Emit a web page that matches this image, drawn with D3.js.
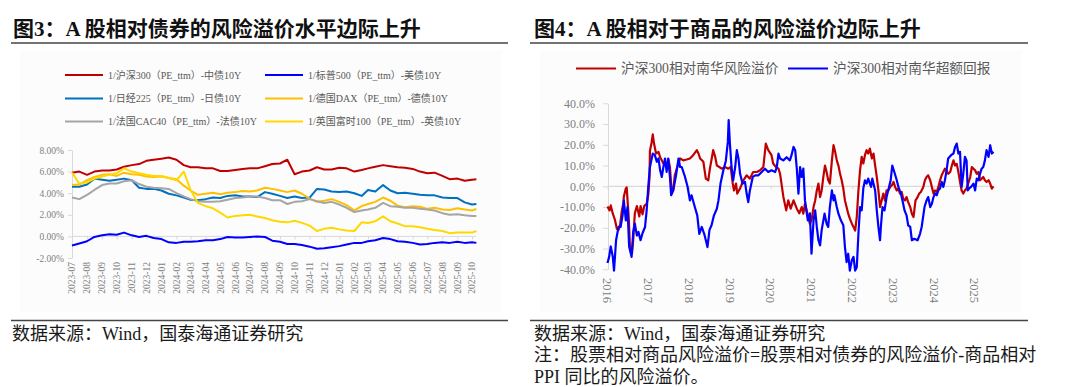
<!DOCTYPE html>
<html>
<head>
<meta charset="utf-8">
<script src="https://cdn.jsdelivr.net/npm/d3@7"></script>
<style>
  body { margin: 0; background: #fff; }
  svg { display: block; }
  text { font-family: 'Liberation Serif', 'Noto Sans CJK SC', serif; }
</style>
</head>
<body>
<svg id="chart" width="1080" height="387"></svg>
<script>
// ---------- 图3 data (semi-monthly readings, %) ----------
const dates3 = ("2023-07-01 2023-07-16 2023-08-01 2023-08-16 2023-09-01 2023-09-16 2023-10-01 2023-10-16 " +
  "2023-11-01 2023-11-16 2023-12-01 2023-12-16 2024-01-01 2024-01-16 2024-02-01 2024-02-16 2024-03-01 2024-03-16 " +
  "2024-04-01 2024-04-16 2024-05-01 2024-05-16 2024-06-01 2024-06-16 2024-07-01 2024-07-16 2024-08-01 2024-08-16 " +
  "2024-09-01 2024-09-16 2024-10-01 2024-10-16 2024-11-01 2024-11-16 2024-12-01 2024-12-16 2025-01-01 2025-01-16 " +
  "2025-02-01 2025-02-16 2025-03-01 2025-03-16 2025-04-01 2025-04-16 2025-05-01 2025-05-16 2025-06-01 2025-06-16 " +
  "2025-07-01 2025-07-16 2025-08-01 2025-08-16 2025-09-01 2025-09-16 2025-10-01 2025-10-10").split(" ");

const hs300 = [5.9,6.0,5.7,6.0,6.1,6.1,6.2,6.45,6.6,6.7, 7.0,7.1,7.2,7.3,7.1,6.6,6.4,6.4,6.3,6.3,
  6.05,6.05,6.15,6.25,6.3,6.3,6.5,6.7,6.75,7.1, 5.75,6.0,6.1,6.4,6.2,6.2,6.35,6.3,6.0,6.15,
  6.3,6.45,6.6,6.5,6.4,6.35,6.25,6.0,5.85,5.9, 5.6,5.3,5.35,5.15,5.25,5.3];
const sp500 = [-0.85,-0.65,-0.45,-0.05,0.1,0.2,0.15,0.35,0.1,-0.05, 0.05,-0.15,-0.25,-0.55,-0.6,-0.5,-0.5,-0.45,-0.35,-0.35,
  -0.25,-0.05,-0.1,-0.1,-0.05,0.0,-0.05,-0.4,-0.5,-0.7, -0.7,-0.8,-0.95,-1.15,-1.1,-1.0,-0.9,-0.75,-0.6,-0.6,
  -0.45,-0.35,-0.15,-0.25,-0.45,-0.5,-0.6,-0.75,-0.7,-0.6, -0.55,-0.6,-0.5,-0.6,-0.55,-0.6];
const nikkei = [4.6,4.6,4.8,5.35,5.25,5.15,5.25,5.35,5.2,4.5, 4.4,4.4,4.25,3.95,3.8,3.6,3.4,3.35,3.45,3.6,
  3.55,3.75,3.8,3.7,3.7,3.65,4.1,3.95,3.75,3.55, 3.7,3.55,3.6,4.4,4.35,4.15,4.1,4.15,4.0,3.75,
  4.3,4.15,4.75,4.25,4.0,4.05,3.95,3.85,3.8,3.8, 3.6,3.55,3.55,3.15,2.95,3.0];
const dax = [4.75,4.8,5.2,5.5,5.7,5.75,5.6,5.9,5.75,5.7, 5.55,5.5,5.55,5.4,5.3,4.7,4.25,3.85,3.95,4.05,
  3.9,4.05,4.1,4.2,4.15,4.25,4.5,4.4,4.25,4.1, 4.25,3.95,3.5,3.2,3.3,3.45,3.2,2.9,2.4,2.8,
  3.0,3.2,3.6,3.3,2.85,2.7,2.8,2.75,2.55,2.65, 2.5,2.45,2.6,2.5,2.4,2.55];
const cac40 = [3.6,3.45,3.85,4.3,4.75,4.9,4.9,5.1,5.2,4.85, 4.6,4.5,4.45,4.4,4.0,3.7,3.45,3.25,3.2,3.2,
  3.25,3.4,3.55,3.6,3.7,3.7,3.55,3.35,3.35,3.0, 3.2,3.25,3.45,3.25,3.1,3.2,2.95,2.65,2.25,2.4,
  2.5,2.65,3.1,2.8,2.75,2.65,2.65,2.55,2.5,2.4, 2.15,2.0,2.05,1.95,1.9,1.9];
const ftse100 = [5.9,4.9,5.0,5.35,5.55,5.7,5.85,6.3,6.0,5.85, 5.7,5.6,5.6,5.4,5.2,6.0,4.3,3.1,2.8,2.6,
  2.2,1.75,1.9,1.95,2.0,1.85,1.7,1.5,1.35,1.3, 1.45,1.25,1.0,0.5,0.7,0.8,0.65,0.55,0.5,1.3,
  1.25,1.4,1.85,1.4,1.2,0.95,0.95,0.85,0.7,0.6, 0.5,0.3,0.35,0.35,0.35,0.5];

const names3 = ["1/沪深300（PE_ttm）-中债10Y", "1/标普500（PE_ttm）-美债10Y", "1/日经225（PE_ttm）-日债10Y",
  "1/德国DAX（PE_ttm）-德债10Y", "1/法国CAC40（PE_ttm）-法债10Y", "1/英国富时100（PE_ttm）-英债10Y"];
const colors3 = ["#C00000", "#0000FF", "#0070C0", "#FFC000", "#A5A5A5", "#FFD800"];
const values3 = [hs300, sp500, nikkei, dax, cac40, ftse100];
const yTicks3 = [-2, 0, 2, 4, 6, 8];

// ---------- 图4 data ([year, %]) ----------
const hsPremium = [
  [2016.00,-9.7],[2016.05,-11.6],[2016.08,-9.2],[2016.13,-13.2],[2016.18,-16],[2016.23,-20.5],[2016.27,-21],[2016.31,-18.5],
  [2016.35,-12],[2016.39,-8],[2016.40,-5],[2016.45,-1],[2016.47,-0.5],[2016.52,-15],[2016.55,-29],[2016.60,-32.5],
  [2016.63,-26],[2016.67,-13],[2016.72,-9.5],[2016.78,-14.5],[2016.81,-9.5],[2016.86,-13.5],[2016.90,-9.5],[2016.96,-8.4],
  [2017.00,-4],[2017.03,4.5],[2017.04,17],[2017.08,21],[2017.11,25],[2017.14,20.6],[2017.19,15.8],[2017.25,16.6],
  [2017.29,14],[2017.37,11],[2017.45,9.3],[2017.49,13],[2017.53,9.3],[2017.57,-2],[2017.61,-2],[2017.65,5.3],
  [2017.71,9.3],[2017.78,13.4],[2017.86,12.5],[2017.94,12.9],[2018.02,13.4],[2018.10,15],[2018.19,17.4],[2018.23,15.8],
  [2018.27,13.4],[2018.35,11.8],[2018.41,3.7],[2018.47,2.9],[2018.51,8.5],[2018.59,17.4],[2018.64,14.2],[2018.68,10],
  [2018.74,9.3],[2018.80,8.5],[2018.88,9.3],[2018.96,8.5],[2019.02,9.3],[2019.07,1.3],[2019.10,-2],[2019.15,1.3],
  [2019.18,-3.5],[2019.25,-1],[2019.33,2.9],[2019.41,5.3],[2019.49,3.7],[2019.57,6.9],[2019.66,6.9],[2019.74,7.7],
  [2019.82,9.3],[2019.88,20.6],[2019.94,17.4],[2020.02,15],[2020.06,11],[2020.13,9.3],[2020.19,8.5],[2020.23,6],
  [2020.31,-5],[2020.38,-11.6],[2020.43,-6.8],[2020.49,-10.8],[2020.56,-6.8],[2020.64,-10.8],[2020.70,-13],
  [2020.76,-10],[2020.80,-13.2],[2020.84,-8.4],[2020.88,-11.6],[2020.92,-14.8],[2020.96,-18],[2021.00,-16.4],[2021.05,-10],
  [2021.09,-6.8],[2021.13,-2],[2021.17,1.3],[2021.21,-5.2],[2021.25,-2],[2021.29,4.5],[2021.33,10],[2021.37,6.9],
  [2021.41,2.9],[2021.45,1.3],[2021.50,12.5],[2021.54,19.8],[2021.58,16.6],[2021.62,12.5],[2021.66,10],[2021.70,6],
  [2021.74,2.9],[2021.78,-1.1],[2021.82,-6.8],[2021.86,-10],[2021.90,-13.2],[2021.94,-15.6],[2021.99,-18],[2022.03,-19.6],
  [2022.07,-21.3],[2022.11,-14.8],[2022.15,-2],[2022.19,7.7],[2022.23,14.2],[2022.27,11],[2022.31,15],[2022.35,17.4],
  [2022.39,15.8],[2022.43,18.2],[2022.48,13.4],[2022.52,15.8],[2022.56,10],[2022.60,4.5],[2022.64,-2],[2022.68,-10],
  [2022.72,-6.8],[2022.76,-3.5],[2022.80,-6.8],[2022.84,-2],[2022.88,-2],[2022.93,-0.3],[2022.97,0.5],[2023.01,2.1],
  [2023.05,-0.3],[2023.09,-2],[2023.13,-1.1],[2023.17,-3.5],[2023.21,-2.7],[2023.25,-6],[2023.29,-6.8],[2023.33,-5.2],
  [2023.37,-7.6],[2023.42,-10],[2023.46,-13.2],[2023.50,-14.8],[2023.52,-11.6],[2023.55,-6.8],[2023.60,-5.2],[2023.64,-3.5],
  [2023.68,-2.7],[2023.74,-0.3],[2023.78,2.9],[2023.82,4.5],[2023.86,5.3],[2023.91,2.9],[2023.95,-0.3],[2023.99,-3.5],
  [2024.03,-2],[2024.07,-2.7],[2024.11,-0.3],[2024.15,2.9],[2024.19,5.3],[2024.23,6.9],[2024.27,8.5],[2024.31,7.7],
  [2024.35,6],[2024.40,6.9],[2024.44,10],[2024.48,12.5],[2024.52,10],[2024.56,10.8],[2024.60,6.9],[2024.64,2.1],
  [2024.68,-2],[2024.72,-3.5],[2024.76,-2],[2024.80,-1.1],[2024.84,1.3],[2024.89,4.5],[2024.93,9.3],[2024.97,8.5],
  [2025.01,7.7],[2025.05,6],[2025.09,6.9],[2025.13,2.9],[2025.17,3.7],[2025.21,4.5],[2025.25,2.9],[2025.29,2.1],
  [2025.34,2.9],[2025.38,1.3],[2025.42,-1.1],[2025.46,0]
];
const hsExcess = [
  [2016.00,-37],[2016.04,-34],[2016.08,-29],[2016.13,-34],[2016.16,-40.6],[2016.21,-26],[2016.27,-19.6],[2016.32,-19.6],
  [2016.37,-14],[2016.40,-6.8],[2016.45,-16.4],[2016.49,-10],[2016.53,-29],[2016.59,-34],[2016.63,-22],[2016.67,-18],
  [2016.72,-23.7],[2016.76,-22],[2016.81,-26],[2016.86,-22.5],[2016.92,-19.6],[2016.96,-11.6],[2017.00,0],[2017.04,9.3],
  [2017.11,15.8],[2017.16,15],[2017.21,11.8],[2017.25,13.4],[2017.29,7.7],[2017.33,4.5],[2017.37,9.3],[2017.41,13.4],
  [2017.45,6.9],[2017.49,13.4],[2017.53,4.5],[2017.56,-4.3],[2017.61,-2],[2017.68,5.3],[2017.74,13.4],[2017.78,9.3],
  [2017.82,9.3],[2017.86,6.9],[2017.90,4.5],[2017.96,0],[2018.02,-6.8],[2018.06,-4.3],[2018.14,-10],[2018.20,-14],
  [2018.25,-22.9],[2018.31,-19.6],[2018.37,-22.9],[2018.41,-26],[2018.45,-29.3],[2018.50,-21],[2018.55,-18.8],[2018.61,-14],
  [2018.68,-10.8],[2018.72,-6.8],[2018.77,1.3],[2018.84,7.7],[2018.90,12.2],[2018.95,21.4],[2018.97,31.9],[2019.00,20.6],
  [2019.04,9.3],[2019.08,2.9],[2019.13,9.3],[2019.17,17.4],[2019.21,13.4],[2019.25,6],[2019.31,1.3],[2019.37,2.1],
  [2019.41,-3.5],[2019.45,-7.6],[2019.49,-2],[2019.56,4.5],[2019.62,5.3],[2019.70,5.3],[2019.78,6.9],[2019.86,8.5],
  [2019.94,6.9],[2020.02,7.7],[2020.11,6.9],[2020.15,9.3],[2020.19,15.8],[2020.23,13.4],[2020.31,12.5],[2020.39,14],
  [2020.47,12.5],[2020.51,15],[2020.56,19],[2020.60,17.4],[2020.64,8.5],[2020.68,-3.5],[2020.72,9.3],[2020.76,4.5],
  [2020.80,8.5],[2020.84,-6.8],[2020.91,-16.4],[2020.96,-13],[2021.00,-32.5],[2021.05,-16.4],[2021.09,-11.6],[2021.13,-19.6],
  [2021.17,-26],[2021.21,-28.5],[2021.25,-21],[2021.32,-13.2],[2021.37,-18],[2021.41,-19.6],[2021.45,-10],[2021.50,-2],
  [2021.54,-6.8],[2021.56,-4.3],[2021.62,-10],[2021.66,-13.2],[2021.72,-16.4],[2021.78,-18.8],[2021.82,-29.3],[2021.86,-36.5],
  [2021.90,-32.5],[2021.94,-40.6],[2021.99,-35.5],[2022.03,-34],[2022.07,-40.6],[2022.11,-39],[2022.15,-22.9],[2022.19,-10],
  [2022.23,-11.6],[2022.27,-1],[2022.31,2.9],[2022.35,1.3],[2022.39,3.7],[2022.46,-0.3],[2022.49,3.7],[2022.56,-2],
  [2022.60,-11.6],[2022.64,-19.6],[2022.68,-26],[2022.70,-19.6],[2022.74,-10],[2022.79,-11.6],[2022.84,-5.2],[2022.88,-2],
  [2022.94,2.9],[2022.98,10],[2023.03,6.9],[2023.09,2.9],[2023.13,-0.3],[2023.19,-3.5],[2023.23,-6.8],[2023.28,-11.6],
  [2023.33,-14],[2023.37,-18.8],[2023.42,-19.6],[2023.46,-26],[2023.52,-25.3],[2023.60,-26],[2023.66,-22.9],[2023.70,-19.6],
  [2023.77,-10],[2023.82,-6.8],[2023.86,-5.2],[2023.91,-10],[2023.95,-8.4],[2023.99,-5.2],[2024.03,-3.5],[2024.07,-4.3],
  [2024.11,-1.9],[2024.15,-1.1],[2024.19,2.1],[2024.23,-0.3],[2024.27,2.9],[2024.31,7.7],[2024.35,13.4],[2024.42,15],
  [2024.48,15.8],[2024.52,19],[2024.56,20.6],[2024.60,15.8],[2024.64,16.6],[2024.68,-0.3],[2024.72,6],[2024.76,14.2],
  [2024.80,12.5],[2024.83,-2],[2024.86,-1.1],[2024.91,-0.3],[2024.97,1.3],[2025.01,-2],[2025.05,3.7],[2025.09,2.9],
  [2025.13,6],[2025.17,8.5],[2025.21,9.3],[2025.25,12.5],[2025.29,17.4],[2025.34,14.2],[2025.38,19.8],[2025.42,15.8],
  [2025.46,16.6]
];
const names4 = ["沪深300相对南华风险溢价", "沪深300相对南华超额回报"];
const colors4 = ["#C00000", "#0000FF"];
const values4 = [hsPremium, hsExcess];
const yTicks4 = [-40, -30, -20, -10, 0, 10, 20, 30, 40];
const years4 = [2016, 2017, 2018, 2019, 2020, 2021, 2022, 2023, 2024, 2025];

const svg = d3.select("#chart");
const axisGray = "#d9d9d9", labelGray = "#7f7f7f";

// faint chart panels
svg.append("rect").attr("x", 20).attr("y", 50).attr("width", 482).attr("height", 262).attr("fill", "#fcfcfc");
svg.append("rect").attr("x", 540).attr("y", 50).attr("width", 482).attr("height", 262).attr("fill", "#fcfcfc");

// ---------- titles, rules, sources ----------
function rule(x1, x2, y) {
  svg.append("line").attr("x1", x1).attr("x2", x2).attr("y1", y).attr("y2", y)
    .attr("stroke", "#444").attr("stroke-width", 1.5);
}
svg.append("text").attr("x", 13).attr("y", 35.5).attr("font-size", 21).attr("font-weight", "bold")
  .attr("fill", "#111").text("图3：A 股相对债券的风险溢价水平边际上升");
svg.append("text").attr("x", 534).attr("y", 35.5).attr("font-size", 21).attr("font-weight", "bold")
  .attr("fill", "#111").text("图4：A 股相对于商品的风险溢价边际上升");
rule(11, 508, 43);
rule(530, 1028, 43);
rule(11, 508, 320.5);
rule(530, 1028, 320.5);

const src = svg.append("g").attr("font-size", 18).attr("fill", "#1a1a1a");
src.append("text").attr("x", 12).attr("y", 339.5).text("数据来源：Wind，国泰海通证券研究");
src.append("text").attr("x", 534).attr("y", 339.5).text("数据来源：Wind，国泰海通证券研究");
src.append("text").attr("x", 534).attr("y", 361).text("注：股票相对商品风险溢价=股票相对债券的风险溢价-商品相对");
src.append("text").attr("x", 534).attr("y", 382.5).text("PPI 同比的风险溢价。");

// ---------- 图3 chart ----------
const x3 = d3.scaleUtc().domain([new Date("2023-07-01"), new Date("2025-10-01")]).range([72, 472]);
const y3 = d3.scaleLinear().domain([-2, 8]).range([258, 150]);
const parsed3 = dates3.map(d => new Date(d));

const gy3 = svg.append("g").attr("transform", "translate(72,0)")
  .call(d3.axisLeft(y3).tickValues(yTicks3).tickSize(4).tickSizeOuter(0).tickPadding(4)
    .tickFormat(d => d.toFixed(2) + "%"));
gy3.select(".domain").attr("stroke", axisGray);
gy3.selectAll(".tick line").attr("stroke", axisGray);
gy3.selectAll("text").attr("fill", labelGray).attr("font-size", 9.5)
  .style("font-family", "'Liberation Serif', serif");

const monthTicks3 = d3.utcMonth.range(new Date("2023-07-01"), new Date("2025-10-02"));
const gx3 = svg.append("g").attr("transform", `translate(0,${y3(0)})`)
  .call(d3.axisBottom(x3).tickValues(monthTicks3).tickSize(3).tickSizeOuter(0).tickFormat(""));
gx3.select(".domain").attr("d", `M72,0H476`).attr("stroke", axisGray);
gx3.selectAll(".tick line").attr("stroke", axisGray);

svg.append("g").selectAll("text").data(monthTicks3).join("text")
  .attr("transform", d => `translate(${x3(d)},262) rotate(-90)`)
  .attr("text-anchor", "end").attr("dy", "0.35em")
  .attr("font-size", 9.5).attr("fill", labelGray)
  .text(d3.utcFormat("%Y-%m"));

const line3 = d3.line().x((d, i) => x3(parsed3[i])).y(d => y3(d));
svg.append("g").selectAll("path").data(values3).join("path")
  .attr("d", d => line3(d))
  .attr("fill", "none")
  .attr("stroke", (d, i) => colors3[i])
  .attr("stroke-width", 2)
  .attr("stroke-linejoin", "round");

const leg3 = svg.append("g");
const legRows = [75, 98.5, 121.5];
const legCols = [65, 265];
names3.forEach((n, i) => {
  const cx = legCols[i % 2], cy = legRows[Math.floor(i / 2)];
  leg3.append("line").attr("x1", cx).attr("x2", cx + 38).attr("y1", cy).attr("y2", cy)
    .attr("stroke", colors3[i]).attr("stroke-width", 2.2);
  leg3.append("text").attr("x", cx + 43).attr("y", cy).attr("dy", "0.35em")
    .attr("font-size", 10).attr("fill", "#595959").text(n);
});

// ---------- 图4 chart ----------
const x4 = d3.scaleLinear().domain([2016, 2025]).range([607.5, 974.7]);
const y4 = d3.scaleLinear().domain([-40, 40]).range([269.3, 103.3]);

const gy4 = svg.append("g").attr("transform", "translate(608,0)")
  .call(d3.axisLeft(y4).tickValues(yTicks4).tickSize(5).tickSizeOuter(0).tickPadding(8)
    .tickFormat(d => d.toFixed(1) + "%"));
gy4.select(".domain").attr("stroke", axisGray);
gy4.selectAll(".tick line").attr("stroke", axisGray);
gy4.selectAll("text").attr("fill", labelGray).attr("font-size", 12)
  .style("font-family", "'Liberation Serif', serif");

const gx4 = svg.append("g").attr("transform", `translate(0,${y4(0)})`)
  .call(d3.axisBottom(x4).tickValues(years4).tickSize(3).tickSizeOuter(0).tickFormat(""));
gx4.select(".domain").attr("d", "M608,0H994").attr("stroke", axisGray).attr("stroke-width", 1.2);
gx4.selectAll(".tick line").attr("stroke", axisGray);

svg.append("g").selectAll("text").data(years4).join("text")
  .attr("transform", d => `translate(${x4(d)},278) rotate(90)`)
  .attr("text-anchor", "start").attr("dy", "0.35em")
  .attr("font-size", 12.5).attr("fill", labelGray)
  .text(d => d);

const line4 = d3.line().x(d => x4(d[0])).y(d => y4(d[1]));
svg.append("g").selectAll("path").data(values4).join("path")
  .attr("d", d => line4(d))
  .attr("fill", "none")
  .attr("stroke", (d, i) => colors4[i])
  .attr("stroke-width", 2.2)
  .attr("stroke-linejoin", "round");

const leg4 = svg.append("g");
const leg4X = [576, 788];
names4.forEach((n, i) => {
  leg4.append("line").attr("x1", leg4X[i]).attr("x2", leg4X[i] + 40).attr("y1", 68.5).attr("y2", 68.5)
    .attr("stroke", colors4[i]).attr("stroke-width", 2.2);
  leg4.append("text").attr("x", leg4X[i] + 45).attr("y", 68.5).attr("dy", "0.35em")
    .attr("font-size", 13.7).attr("fill", "#595959").text(n);
});
</script>
</body>
</html>
